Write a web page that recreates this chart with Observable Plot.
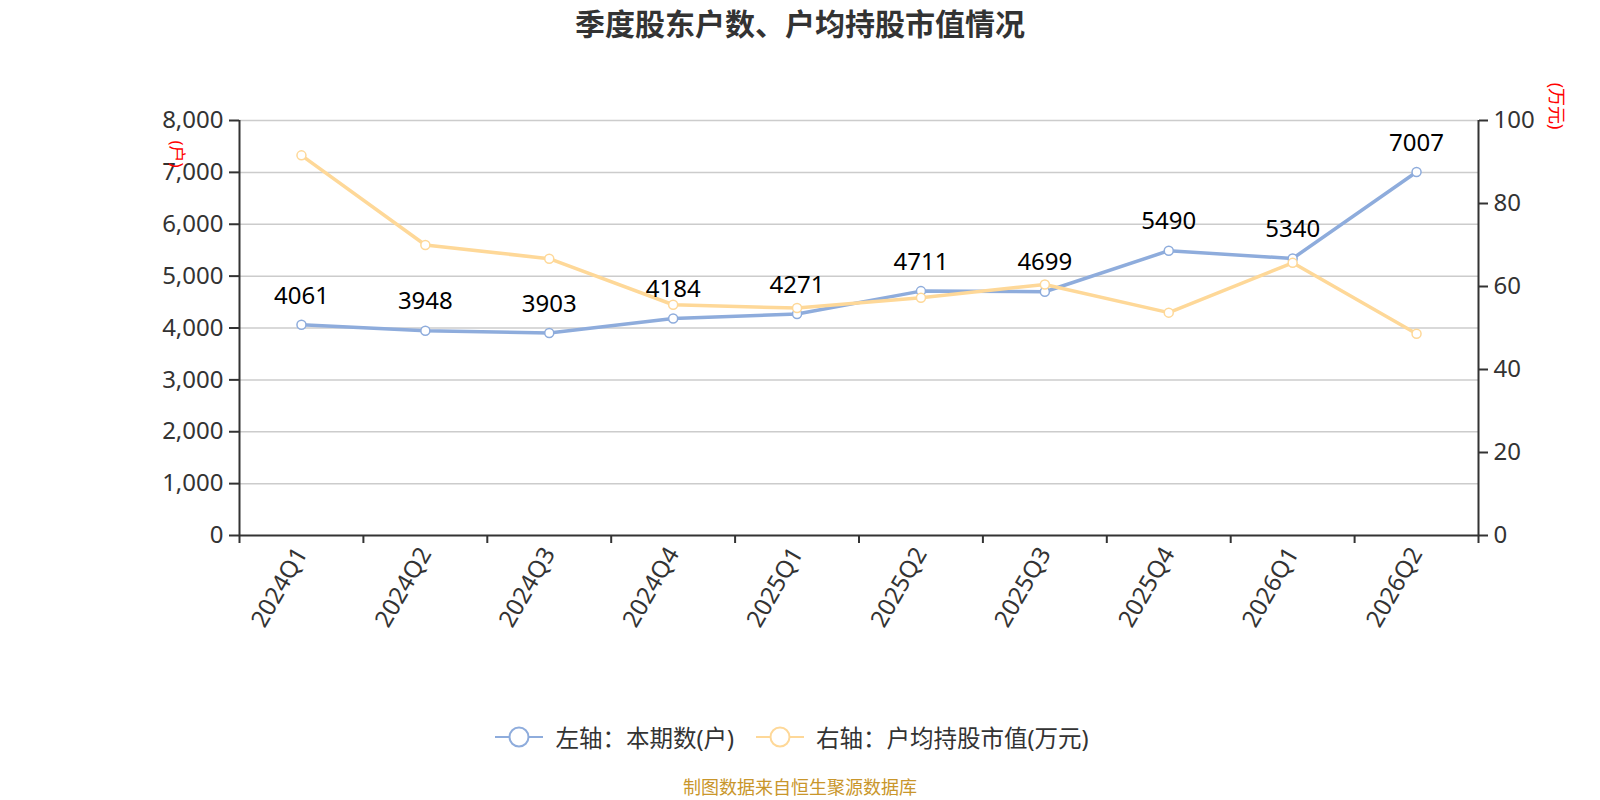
<!DOCTYPE html>
<html>
<head>
<meta charset="utf-8">
<script src="https://cdn.jsdelivr.net/npm/d3@7"></script>
<script src="https://cdn.jsdelivr.net/npm/@observablehq/plot@0.6"></script>
<style>
  html, body { margin: 0; padding: 0; background: #fff; }
  body { width: 1600px; height: 800px; position: relative; overflow: hidden;
         font-family: "Noto Sans", "Noto Sans CJK SC", sans-serif; }
  #title { position: absolute; left: 0; top: 0; width: 1600px; height: 45px; line-height: 45px;
           text-align: center; font-size: 30px; font-weight: bold; color: #333;
           font-family: "Noto Sans CJK SC", sans-serif; }
  #chart { position: absolute; left: 0; top: 45px; }
  #legend { position: absolute; left: -8px; top: 722px; width: 1600px; height: 30px;
            display: flex; justify-content: center; align-items: center; gap: 22px;
            font-size: 23.5px; color: #333; }
  .item { display: flex; align-items: center; gap: 12px; }
  #caption { position: absolute; left: 0; top: 775px; width: 1600px; line-height: 22px;
             text-align: center; font-size: 18px; color: #c9962b;
             font-family: "Noto Sans CJK SC", sans-serif; }
</style>
</head>
<body>
<div id="title"></div>
<div id="chart"></div>
<div id="legend"></div>
<div id="caption"></div>
<script>
const titleText = "季度股东户数、户均持股市值情况";
const captionText = "制图数据来自恒生聚源数据库";
const categories = ["2024Q1","2024Q2","2024Q3","2024Q4","2025Q1","2025Q2","2025Q3","2025Q4","2026Q1","2026Q2"];
const holders = [4061, 3948, 3903, 4184, 4271, 4711, 4699, 5490, 5340, 7007];
const avgValue = [91.6, 70.0, 66.7, 55.6, 54.8, 57.3, 60.5, 53.7, 65.7, 48.6];
const leftTicks = [0, 1000, 2000, 3000, 4000, 5000, 6000, 7000, 8000];
const rightTicks = [0, 20, 40, 60, 80, 100];
const seriesNames = ["左轴：本期数(户)", "右轴：户均持股市值(万元)"];
const leftUnit = "(户)";
const rightUnit = "(万元)";

const BLUE = "#8eacdc";
const YELLOW = "#fed898";
const FONT = '"Noto Sans", "Noto Sans CJK SC", sans-serif';
const RATIO = leftTicks[leftTicks.length - 1] / rightTicks[rightTicks.length - 1];

const rows = categories.map((c, i) => ({
  pos: i + 0.5, cat: c, holders: holders[i], avg: avgValue[i], avgScaled: avgValue[i] * RATIO
}));

document.getElementById("title").textContent = titleText;
document.getElementById("caption").textContent = captionText;

const plot = Plot.plot({
  width: 1600,
  height: 610,
  marginTop: 75,
  marginLeft: 239,
  marginRight: 122,
  marginBottom: 120,
  style: { fontFamily: FONT, fontSize: "24px", color: "#333", background: "white", overflow: "visible" },
  x: { domain: [0, categories.length], axis: null },
  y: { domain: [0, leftTicks[leftTicks.length - 1]], axis: null },
  marks: [
    Plot.ruleY(leftTicks.slice(1), { stroke: "#cccccc", strokeWidth: 1.5 }),
    Plot.axisY({ anchor: "left", ticks: leftTicks, tickFormat: d3.format(","), tickSize: 10, tickPadding: 6,
                 stroke: "#333", strokeWidth: 2, fill: "#333", fontSize: 24, label: null }),
    Plot.axisY({ anchor: "right", ticks: rightTicks.map(v => v * RATIO), tickFormat: v => String(Math.round(v / RATIO)),
                 tickSize: 9, tickPadding: 6, stroke: "#333", strokeWidth: 2, fill: "#333", fontSize: 24, label: null }),
    Plot.axisX({ anchor: "bottom", ticks: d3.range(0, categories.length + 1), tickFormat: () => "",
                 tickSize: 8, stroke: "#333", strokeWidth: 2, label: null }),
    Plot.axisX({ anchor: "bottom", ticks: rows.map(d => d.pos), tickFormat: v => categories[Math.floor(v)],
                 tickSize: 0, tickPadding: 14, tickRotate: -60, fill: "#333", fontSize: 24, label: null }),
    Plot.ruleY([0], { stroke: "#333", strokeWidth: 2 }),
    Plot.ruleX([0], { stroke: "#333", strokeWidth: 2 }),
    Plot.ruleX([categories.length], { stroke: "#333", strokeWidth: 2 }),
    Plot.line(rows, { x: "pos", y: "holders", stroke: BLUE, strokeWidth: 3.5 }),
    Plot.dot(rows, { x: "pos", y: "holders", r: 4.5, fill: "white", stroke: BLUE, strokeWidth: 1.5 }),
    Plot.line(rows, { x: "pos", y: "avgScaled", stroke: YELLOW, strokeWidth: 3.5 }),
    Plot.dot(rows, { x: "pos", y: "avgScaled", r: 4.5, fill: "white", stroke: YELLOW, strokeWidth: 1.5 }),
    Plot.text(rows, { x: "pos", y: "holders", text: d => String(d.holders), dy: -29, fill: "black", fontSize: 24 }),
    Plot.text([leftUnit], { frameAnchor: "top-left", text: d => d, dx: -56, dy: 20, rotate: 90, fill: "red", fontSize: 17 }),
    Plot.text([rightUnit], { frameAnchor: "top-right", text: d => d, dx: 84, dy: 9, rotate: 90, fill: "red", fontSize: 18 })
  ]
});
document.getElementById("chart").appendChild(plot);

const legend = document.getElementById("legend");
[BLUE, YELLOW].forEach((col, k) => {
  const item = document.createElement("div");
  item.className = "item";
  item.innerHTML = `<svg width="48" height="24" viewBox="0 0 48 24">
      <line x1="0" y1="12" x2="48" y2="12" stroke="${col}" stroke-width="2"/>
      <circle cx="24" cy="12" r="9.5" fill="white" stroke="${col}" stroke-width="2"/>
    </svg><span>${seriesNames[k]}</span>`;
  legend.appendChild(item);
});
</script>
</body>
</html>
